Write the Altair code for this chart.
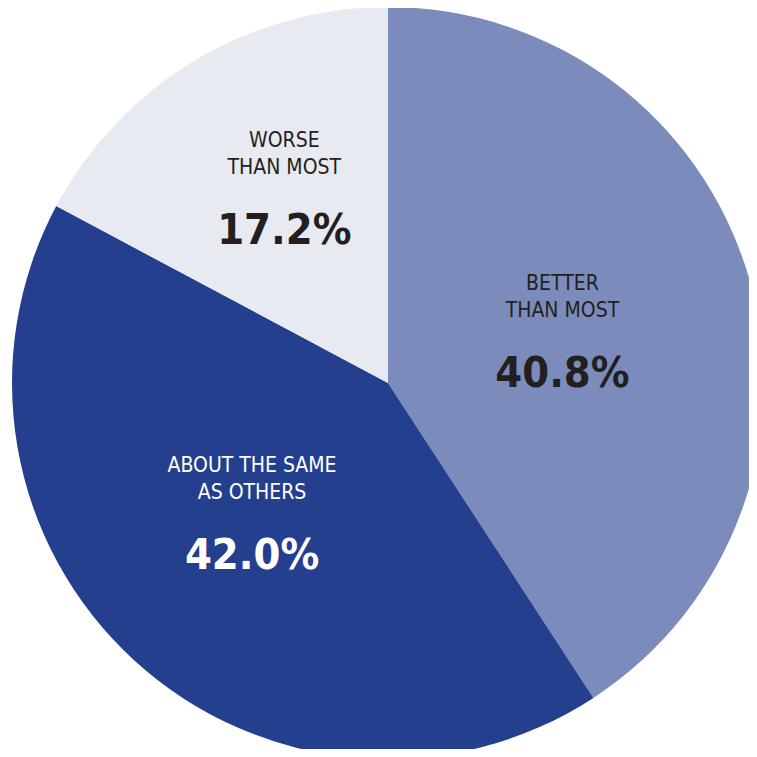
import altair as alt
import pandas as pd

categories = ["BETTER\nTHAN MOST", "ABOUT THE SAME\nAS OTHERS", "WORSE\nTHAN MOST"]
keys = ["better", "same", "worse"]
values = [40.8, 42.0, 17.2]
pct_labels = ["40.8%", "42.0%", "17.2%"]
colors = ["#7B8BBB", "#243F8E", "#E8EAF2"]
text_colors = ["#231F20", "#FFFFFF", "#231F20"]

df = pd.DataFrame({
    "key": keys,
    "label": categories,
    "value": values,
    "pct": pct_labels,
    "idx": list(range(len(keys))),
})

FONT = "'Liberation Sans Narrow', 'DejaVu Sans Condensed', 'Roboto Condensed', Roboto, sans-serif"
CX, CY, R = 380, 375, 376
# per-slice label placement style: (radius, dx, dy shift)
label_style = {"better": (182, 0, 0), "same": (188, -9, -9), "worse": (221, 10, -5)}

base = alt.Chart(df).encode(
    theta=alt.Theta("value:Q", stack=True),
    order=alt.Order("idx:Q"),
    detail="key:N",
)

arcs = base.mark_arc(outerRadius=R, stroke=None).encode(
    x=alt.value(CX), y=alt.value(CY),
    color=alt.Color("key:N", scale=alt.Scale(domain=keys, range=colors), legend=None),
)

tcolor = alt.Color("key:N", scale=alt.Scale(domain=keys, range=text_colors), legend=None)

layers = [arcs]
for k, (lr, ddx, ddy) in label_style.items():
    lab = base.mark_text(
        font=FONT, fontSize=21, fontWeight="normal",
        lineBreak="\n", lineHeight=27, align="center", baseline="alphabetic",
        dx=ddx, dy=-41 + ddy,
    ).encode(
        x=alt.value(CX), y=alt.value(CY), radius=alt.value(lr),
        text="label:N", color=tcolor,
        opacity=alt.condition(alt.datum.key == k, alt.value(1), alt.value(0)),
    )
    pct = base.mark_text(
        font=FONT, fontSize=43, fontWeight="bold",
        align="center", baseline="alphabetic",
        dx=ddx, dy=56 + ddy,
    ).encode(
        x=alt.value(CX), y=alt.value(CY), radius=alt.value(lr),
        text="pct:N", color=tcolor,
        opacity=alt.condition(alt.datum.key == k, alt.value(1), alt.value(0)),
    )
    layers += [lab, pct]

chart = alt.layer(*layers).resolve_scale(color="independent").properties(
    width=741, height=741, padding=0, autosize=alt.AutoSizeParams(type="none"),
).configure_view(stroke=None)

chart.save("out.html", embed_options={"renderer": "svg", "actions": False})
